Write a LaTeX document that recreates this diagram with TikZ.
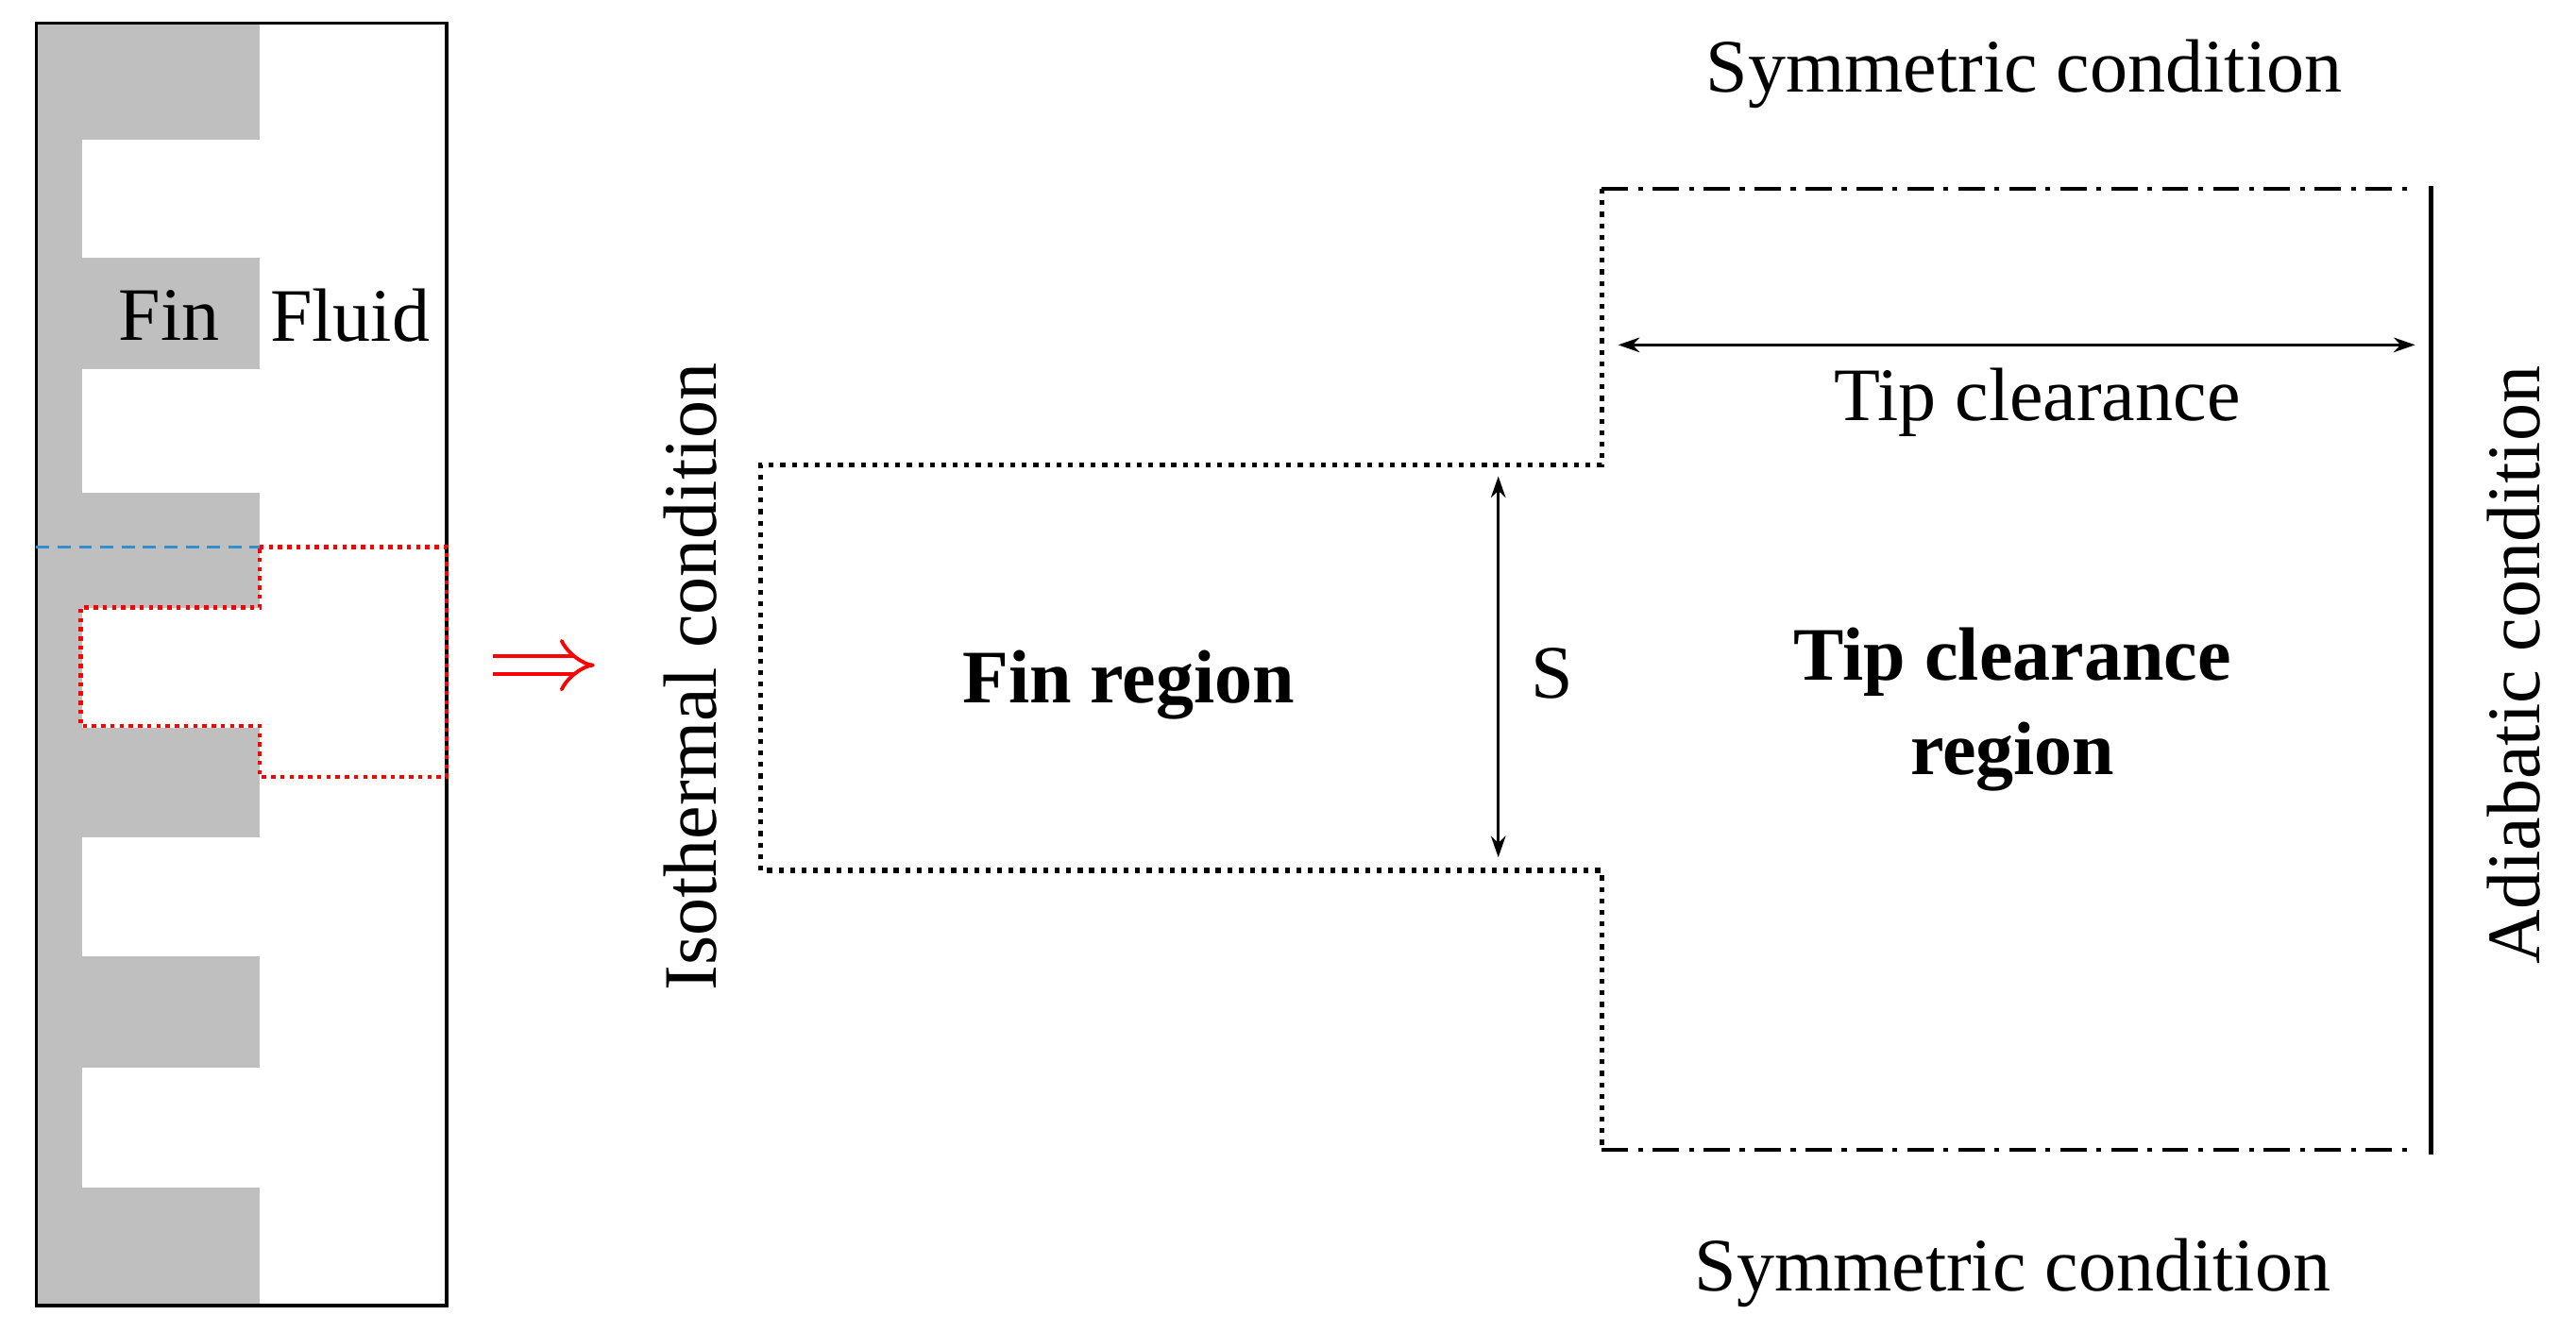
\documentclass[tikz,border=0pt]{standalone}
\usepackage{fontspec}
\usetikzlibrary{arrows.meta}
\setmainfont{Liberation Serif}
\begin{document}
\begin{tikzpicture}[x=1pt,y=-1pt,
  lbl/.style={font=\fontsize{46}{52}\selectfont, inner sep=0pt},
  blbl/.style={font=\fontsize{46}{58}\selectfont\bfseries, inner sep=0pt, align=center},
  dotb/.style={line width=3pt, dash pattern=on 3pt off 4pt},
  dashdot/.style={line width=2pt, dash pattern=on 16pt off 6pt on 3pt off 6pt},
  dim/.style={line width=1.5pt, <->, >={Stealth[length=13pt,width=9pt]}}]
\useasboundingbox (0,0) rectangle (1568,811);
% left panel
\fill[gray!50] (22,14) rectangle (50,795);
\foreach \a/\b in {14/85,157/225,300/371,443/510,582/650,723/795}
  \fill[gray!50] (22,\a) rectangle (158,\b);
\draw[line width=2pt] (22,14) rectangle (272,795);
\draw[blue!40!cyan!60!gray, line width=2pt, dash pattern=on 8pt off 5pt] (22,333) -- (158,333);
\fill[white] (50,370) rectangle (158,442);
\fill[white] (158,333) rectangle (270,473);
\draw[red, line width=2.6pt, dash pattern=on 2.6pt off 3pt]
  (158,333) -- (272,333) -- (272,473) -- (158,473) -- (158,442) -- (49,442) -- (49,370) -- (158,370) -- cycle;
\node[lbl] (fin) at (103,192) {Fin};
\node[lbl] (fluid) at (213,192) {Fluid};
\coordinate (r1) at (300,405); \coordinate (r2) at (362,405);
\draw[red, line width=2.2pt, double distance=9pt, -{Implies[length=10pt]}] (r1) -- (r2);
% right panel
\coordinate (a1) at (975,115); \coordinate (a2) at (975,283);
\coordinate (a3) at (463,283); \coordinate (a4) at (463,530);
\coordinate (a5) at (975,530); \coordinate (a6) at (975,700);
\draw[dotb] (a1) -- (a2) -- (a3) -- (a4) -- (a5) -- (a6);
\coordinate (t2) at (1470,115); \coordinate (b2) at (1470,700);
\draw[dashdot] (a1) -- (t2);
\draw[dashdot] (a6) -- (b2);
\draw[line width=2.8pt] (1480,113) -- (1480,703);
\coordinate (c1) at (985,210); \coordinate (c2) at (1470,210);
\draw[dim] (c1) -- (c2);
\coordinate (s1) at (912,290); \coordinate (s2) at (912,522);
\draw[dim] (s1) -- (s2);
\node[lbl] (tc) at (1240,245) {Tip clearance};
\node[lbl] (s) at (945,410) {S};
\node[blbl] (fr) at (687,417) {Fin region};
\node[blbl] (tcr) at (1225,432) {Tip clearance\\region};
\node[lbl] (sym1) at (1232,45) {Symmetric condition};
\node[lbl] (sym2) at (1225,775) {Symmetric condition};
\node[lbl, rotate=90] (iso) at (420,412) {Isothermal condition};
\node[lbl, rotate=90] (adi) at (1530,405) {Adiabatic condition};
\end{tikzpicture}
\end{document}
